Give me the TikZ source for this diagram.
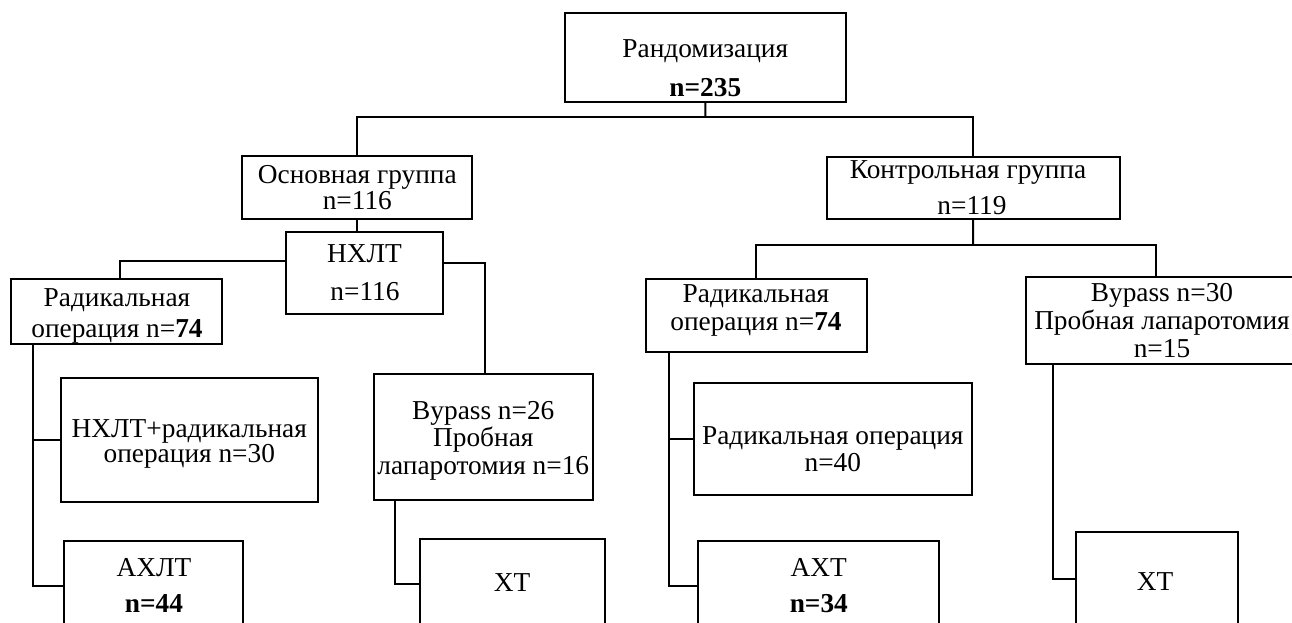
\documentclass[tikz,border=0pt]{standalone}
\usepackage{fontspec}
\setmainfont{Liberation Serif}
\usetikzlibrary{fit}
\begin{document}
\begin{tikzpicture}[x=0.75pt,y=-0.75pt,
  box/.style={draw, line width=1.5pt, inner sep=0pt, rectangle},
  conn/.style={draw, line width=1.5pt},
  txt/.style={font=\fontsize{20.5}{24}\selectfont, inner sep=0pt, anchor=base}]
\useasboundingbox (0,0) rectangle (1292,623);

% boxes
\node[box, fit={(564.7,13.3) (846,101.7)}] (rand) {};
\node[box, fit={(242.3,156) (472.3,218.7)}] (osn) {};
\node[box, fit={(826.7,156.7) (1119.7,218.7)}] (kontr) {};
\node[box, fit={(285.7,232.3) (443,313.7)}] (nhlt) {};
\node[box, fit={(11,279.3) (221.7,344.3)}] (radL) {};
\node[box, fit={(646,279.3) (866.7,351.7)}] (radR) {};
\node[box, fit={(1025.7,277.3) (1298,364.3)}] (bypR) {};
\node[box, fit={(61,377.7) (317.7,501.7)}] (nrad) {};
\node[box, fit={(373.7,374.3) (593,500.3)}] (bypL) {};
\node[box, fit={(693.7,382.7) (972,495.3)}] (rop) {};
\node[box, fit={(64.3,541) (243.3,631)}] (achlt) {};
\node[box, fit={(419.7,538.7) (604.7,628.7)}] (xtL) {};
\node[box, fit={(698.3,541) (939.3,630)}] (axt) {};
\node[box, fit={(1075.7,531.7) (1238.3,627)}] (xtR) {};

% texts
\node[txt] (t-rand1) at (705.3,57.3) {Рандомизация};
\node[txt] (t-rand2) at (705.3,97) {\textbf{n=235}};
\node[txt] (t-osn1) at (357.3,184) {Основная группа};
\node[txt] (t-osn2) at (357.3,209.5) {n=116};
\node[txt] (t-kon1) at (968,178.5) {Контрольная группа};
\node[txt] (t-kon2) at (972,215) {n=119};
\node[txt] (t-nhlt1) at (364.5,263) {НХЛТ};
\node[txt] (t-nhlt2) at (365,301) {n=116};
\node[txt] (t-radL1) at (117,306.7) {Радикальная};
\node[txt] (t-radL2) at (117,337.7) {операция n=\textbf{74}};
\node[txt] (t-radR1) at (756,303) {Радикальная};
\node[txt] (t-radR2) at (756,331) {операция n=\textbf{74}};
\node[txt] (t-bypR1) at (1162,301.7) {Bypass n=30};
\node[txt] (t-bypR2) at (1162,329.3) {Пробная лапаротомия};
\node[txt] (t-bypR3) at (1162,357.7) {n=15};
\node[txt] (t-nrad1) at (189.3,437.7) {НХЛТ+радикальная};
\node[txt] (t-nrad2) at (189.3,462.7) {операция n=30};
\node[txt] (t-bypL1) at (483.3,419.3) {Bypass n=26};
\node[txt] (t-bypL2) at (483.3,446) {Пробная};
\node[txt] (t-bypL3) at (483.3,474.3) {лапаротомия n=16};
\node[txt] (t-rop1) at (832.8,444.5) {Радикальная операция};
\node[txt] (t-rop2) at (832.8,471.5) {n=40};
\node[txt] (t-achlt1) at (154,576) {АХЛТ};
\node[txt] (t-achlt2) at (154,612.7) {\textbf{n=44}};
\node[txt] (t-xtL) at (512,591.7) {ХТ};
\node[txt] (t-axt1) at (818.8,576.7) {АХТ};
\node[txt] (t-axt2) at (818.8,612.7) {\textbf{n=34}};
\node[txt] (t-xtR) at (1155,590) {ХТ};

% junction coordinates
\coordinate (rj) at (705.3,117.3);
\coordinate (nl) at (120,260.7);
\coordinate (nr) at (485.3,263.3);
\coordinate (lv) at (33.3,0);
\coordinate (bv) at (394.7,0);
\coordinate (kj) at (973,245);
\coordinate (kr) at (1155.7,245);
\coordinate (rv) at (669.3,0);
\coordinate (bv2) at (1053.3,0);

% connectors
\path[conn] (rand.south) -- (rj);
\path[conn] (osn.north) |- (rj) -| (kontr.north);
\path[conn] (osn.south) -- (osn.south |- nhlt.north);
\path[conn] (nl -| nhlt.west) -- (nl) -- (nl |- radL.north);
\path[conn] (nr -| nhlt.east) -- (nr) -- (nr |- bypL.north);
\path[conn] (lv |- radL.south) -- (lv |- achlt.west) -- (achlt.west);
\path[conn] (lv |- nrad.west) -- (nrad.west);
\path[conn] (bv |- bypL.south) -- (bv |- xtL.west) -- (xtL.west);
\path[conn] (kontr.south) -- (kj);
\path[conn] (radR.north) |- (kr) -- (kr |- bypR.north);
\path[conn] (rv |- radR.south) -- (rv |- axt.west) -- (axt.west);
\path[conn] (rv |- rop.west) -- (rop.west);
\path[conn] (bv2 |- bypR.south) -- (bv2 |- xtR.west) -- (xtR.west);
\end{tikzpicture}
\end{document}
